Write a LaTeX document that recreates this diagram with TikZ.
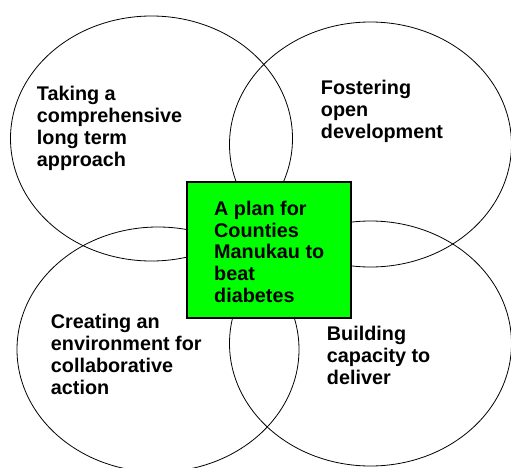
\documentclass[tikz,border=0pt]{standalone}
\usepackage{fontspec}
\setmainfont{Liberation Sans}
\usepackage{xcolor}
\usetikzlibrary{positioning}
\usetikzlibrary{shapes.geometric}
\definecolor{plangreen}{RGB}{0,255,0}
\tikzset{ring/.style={ellipse,draw,line width=0.8pt,minimum width=282pt,minimum height=245pt,inner sep=0pt}}
\tikzset{lbl/.style={align=left,inner sep=0pt,anchor=base west,font=\fontsize{19.8}{21.67}\selectfont\bfseries}}
\tikzset{plan/.style={rectangle,draw,fill=plangreen,line width=1.1pt,minimum width=164pt,minimum height=136pt}}

\begin{document}
\begin{tikzpicture}[x=1pt,y=1pt]
	\useasboundingbox (0,0) rectangle (511,467);

	\foreach \name/\x/\y in {r0/151.5/328.5, r1/370.5/322.5, r2/158/117.5, r3/370.5/123.5} {
		\node[ring] (\name) at (\x,\y) {};
	}

	\node[plan] (plan) at (269,217) {};

	% base anchor sits on the last line
	\node[lbl] (t0) at (36.7,301) {Taking a\\comprehensive\\long term\\approach};
	\node[lbl] (t1) at (320.7,328.7) {Fostering\\open\\development};
	\node[lbl] (t2) at (50.7,73) {Creating an\\environment for\\collaborative\\action};
	\node[lbl] (t3) at (326.7,82.7) {Building\\capacity to\\deliver};
	\node[lbl] (tp) at (214,164.7) {A plan for\\Counties\\Manukau to\\beat\\diabetes};
\end{tikzpicture}
\end{document}
